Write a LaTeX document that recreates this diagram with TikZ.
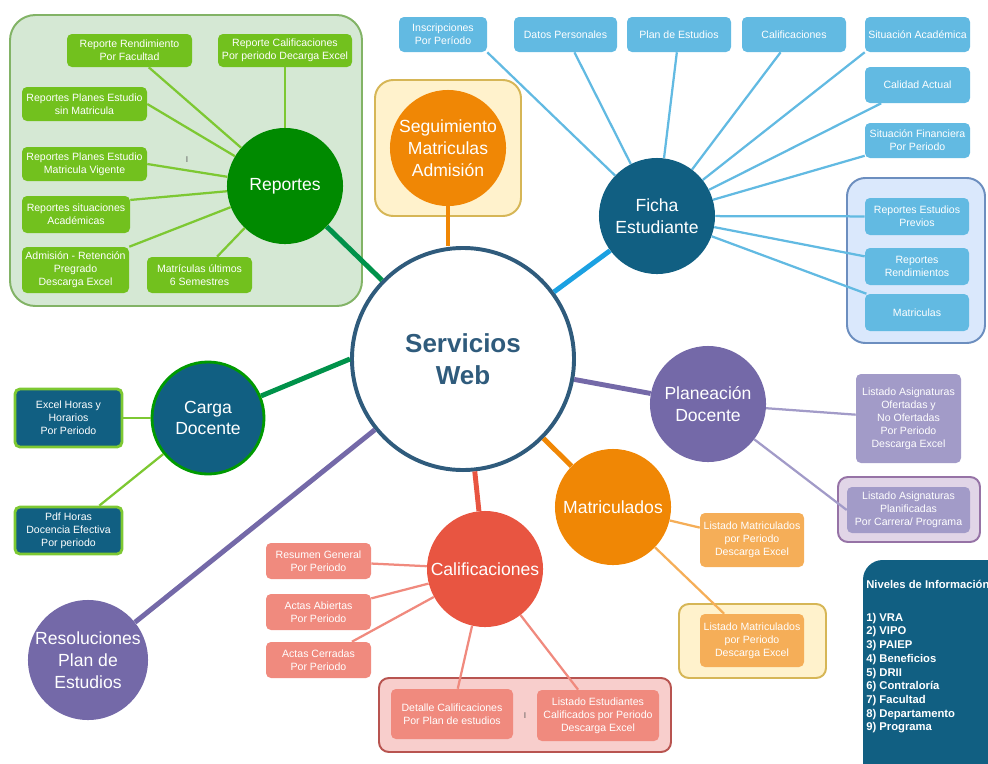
\documentclass[tikz,border=0pt]{standalone}
\usepackage{fontspec}
\setmainfont{Liberation Sans}
\usetikzlibrary{fit}
\definecolor{swblue}{HTML}{2F5B7C}
\definecolor{repdark}{HTML}{008A00}
\definecolor{repleaf}{HTML}{72C11E}
\definecolor{repline}{HTML}{7DC832}
\definecolor{reptrunk}{HTML}{00924A}
\definecolor{repgroup}{HTML}{D5E8D4}
\definecolor{repgroupb}{HTML}{82B366}
\definecolor{segorange}{HTML}{F08705}
\definecolor{yelgroup}{HTML}{FFF2CC}
\definecolor{yelgroupb}{HTML}{D6B656}
\definecolor{fichablue}{HTML}{115F82}
\definecolor{fichatrunk}{HTML}{1BA1E2}
\definecolor{fichaleaf}{HTML}{62BAE2}
\definecolor{bluegroup}{HTML}{DAE8FC}
\definecolor{bluegroupb}{HTML}{6C8EBF}
\definecolor{planpurple}{HTML}{7469A8}
\definecolor{planleaf}{HTML}{A29BC8}
\definecolor{purgroup}{HTML}{E1D5E7}
\definecolor{purgroupb}{HTML}{9673A6}
\definecolor{matleaf}{HTML}{F5AE58}
\definecolor{calred}{HTML}{E85541}
\definecolor{calleaf}{HTML}{F08A7E}
\definecolor{redgroup}{HTML}{F8CECC}
\definecolor{redgroupb}{HTML}{B85450}
\definecolor{cargaborder}{HTML}{009A00}
\tikzset{
hub/.style={circle, draw=swblue, line width=2.8pt, fill=white, minimum size=5.55cm,
    text=swblue, align=center, font=\bfseries\fontsize{18.5}{22.7}\selectfont},
topic/.style={circle, minimum size=2.9cm, inner sep=0pt, text=white, align=center,
    font=\fontsize{12.5}{15.5}\selectfont},
leaf/.style={rounded corners=3.5pt, inner sep=0pt, text=white, align=center,
    font=\fontsize{7.5}{9.2}\selectfont},
sz/.style 2 args={minimum width=#1*0.025cm, minimum height=#2*0.025cm},
group/.style={rounded corners=13pt, inner sep=0pt, line width=1.4pt},
trunk/.style={line width=3.5pt},
twig/.style={line width=1.6pt}
}

\begin{document}
\begin{tikzpicture}[x=0.025cm, y=-0.025cm]
\useasboundingbox (0,0) rectangle (988,764);
\node[group, rounded corners=18pt, fill=repgroup, draw=repgroupb, fit={(10,15)(362,306)}] (repbox) {};
\node[group, fill=yelgroup, draw=yelgroupb, fit={(375,80)(521,216)}] (segbox) {};
\node[group, fill=bluegroup, draw=bluegroupb, fit={(847,178)(985,343)}] (fichabox) {};
\node[group, rounded corners=7pt, fill=purgroup, draw=purgroupb, fit={(838,477)(980,542)}] (planbox) {};
\node[group, rounded corners=7pt, fill=yelgroup, draw=yelgroupb, fit={(679,604)(826,678)}] (matbox) {};
\node[group, rounded corners=7pt, fill=redgroup, draw=redgroupb, fit={(379,678)(671,752)}] (calbox) {};
\node[fill=fichablue, rounded corners=14pt, inner sep=0pt, fit={(863,560)(1010,790)}] (legbox) {};

\node[hub] (sw) at (463,359) {Servicios\\Web};
\node[topic, fill=repdark] (rep) at (285,186) {Reportes};
\node[topic, fill=segorange] (seg) at (448,148) {Seguimiento\\Matriculas\\Admisión};
\node[topic, fill=fichablue] (ficha) at (657,216) {Ficha\\Estudiante};
\node[topic, fill=planpurple] (plan) at (708,404) {Planeación\\Docente};
\node[topic, fill=segorange] (matr) at (613,507) {Matriculados};
\node[topic, fill=calred] (calif) at (485,569) {Calificaciones};
\node[topic, fill=fichablue, draw=cargaborder, line width=2pt, minimum size=2.8cm] (carga) at (208,418) {Carga\\Docente};
\node[topic, fill=planpurple, minimum size=3cm] (resol) at (88,660) {Resoluciones\\Plan de\\Estudios};

\node[leaf, fill=repleaf, sz={125}{33}] (rrend) at (129.5,50.5) {Reporte Rendimiento\\Por Facultad};
\node[leaf, fill=repleaf, sz={134}{33}] (rcal) at (285,50.5) {Reporte Calificaciones\\Por periodo Decarga Excel};
\node[leaf, fill=repleaf, sz={125}{34}] (rsin) at (84.5,104) {Reportes Planes Estudio\\sin Matricula};
\node[leaf, fill=repleaf, sz={125}{34}] (rvig) at (84.5,164) {Reportes Planes Estudio\\Matricula Vigente};
\node[leaf, fill=repleaf, sz={108}{37}] (rsit) at (76,214.5) {Reportes situaciones\\Académicas};
\node[leaf, fill=repleaf, sz={107}{46}] (radm) at (75.5,270) {Admisión - Retención\\Pregrado\\Descarga Excel};
\node[leaf, fill=repleaf, sz={105}{36}] (rsem) at (199.5,275) {Matrículas últimos\\6 Semestres};
\node[font=\fontsize{6}{6}\selectfont, text=black!65] (cur1) at (187,160) {I};

\node[leaf, fill=fichaleaf, sz={88}{35}] (finsc) at (443,34.5) {Inscripciones\\Por Período};
\node[leaf, fill=fichaleaf, sz={103}{35}] (fdat) at (565.5,34.5) {Datos Personales};
\node[leaf, fill=fichaleaf, sz={104}{35}] (fplan) at (679,34.5) {Plan de Estudios};
\node[leaf, fill=fichaleaf, sz={104}{35}] (fcal) at (794,34.5) {Calificaciones};
\node[leaf, fill=fichaleaf, sz={105}{35}] (fsit) at (917.5,34.5) {Situación Académica};
\node[leaf, fill=fichaleaf, sz={105}{36}] (fcalid) at (917.5,85) {Calidad Actual};
\node[leaf, fill=fichaleaf, sz={105}{35}] (ffin) at (917.5,140.5) {Situación Financiera\\Por Periodo};
\node[leaf, fill=fichaleaf, sz={104}{37}] (fprev) at (917,216.5) {Reportes Estudios\\Previos};
\node[leaf, fill=fichaleaf, sz={104}{37}] (frend) at (917,266.5) {Reportes\\Rendimientos};
\node[leaf, fill=fichaleaf, sz={104}{37}] (fmat) at (917,312.5) {Matriculas};

\node[leaf, fill=planleaf, sz={105}{89}] (pofer) at (908.5,418.5) {Listado Asignaturas\\Ofertadas y\\No Ofertadas\\Por Periodo\\Descarga Excel};
\node[leaf, fill=planleaf, sz={123}{46}] (pplan) at (908.5,510) {Listado Asignaturas\\Planificadas\\Por Carrera/ Programa};

\node[leaf, fill=matleaf, sz={104}{54}] (mlist) at (752,540) {Listado Matriculados\\por Periodo\\Descarga Excel};
\node[leaf, fill=matleaf, sz={104}{53}] (mlistb) at (752,640.5) {Listado Matriculados\\por Periodo\\Descarga Excel};

\node[leaf, fill=calleaf, sz={105}{36}] (calres) at (318.5,561) {Resumen General\\Por Periodo};
\node[leaf, fill=calleaf, sz={105}{36}] (calabi) at (318.5,612) {Actas Abiertas\\Por Periodo};
\node[leaf, fill=calleaf, sz={105}{36}] (calcer) at (318.5,660) {Actas Cerradas\\Por Periodo};
\node[leaf, fill=calleaf, sz={122}{50}] (caldet) at (452,714) {Detalle Calificaciones\\Por Plan de estudios};
\node[leaf, fill=calleaf, sz={122}{51}] (callist) at (598,715.5) {Listado Estudiantes\\Calificados por Periodo\\Descarga Excel};
\node[font=\fontsize{6}{6}\selectfont, text=black!65] (cur2) at (525,716) {I};

\node[leaf, fill=fichablue, draw=repline, line width=2pt, sz={107}{58}] (dexc) at (68.5,418) {Excel Horas y\\Horarios\\Por Periodo};
\node[leaf, fill=fichablue, draw=repline, line width=2pt, sz={107}{47}] (dpdf) at (68.5,530.5) {Pdf Horas\\Docencia Efectiva\\Por periodo};

\node[anchor=north west, inner sep=0pt, align=left, text=white,
  font=\bfseries\fontsize{8}{9.75}\selectfont] (legtxt) at (866,580)
  {Niveles de Información\\[13.5pt]1) VRA\\2) VIPO\\3) PAIEP\\4) Beneficios\\5) DRII\\6) Contraloría\\7) Facultad\\8) Departamento\\9) Programa};

\draw[trunk, reptrunk] (rep) -- (sw);
\draw[trunk, reptrunk] (carga) -- (sw.west);
\draw[trunk, segorange] (seg.south) -- (seg.south |- sw.north);
\draw[trunk, fichatrunk] (sw) -- (ficha);
\draw[trunk, planpurple] (sw) -- (plan);
\draw[trunk, segorange] (sw) -- (matr);
\draw[trunk, calred] (sw) -- (calif);
\draw[trunk, planpurple] (sw) -- (resol);

\foreach \n in {rrend, rcal, rsem}
  \draw[twig, repline] (\n) -- (rep);
\draw[twig, repline] (rsin.east) -- (rep);
\draw[twig, repline] (rvig.east) -- (rep);
\draw[twig, repline] (rsit.15) -- (rep);
\draw[twig, repline] (radm.north east) -- (rep);

\foreach \n in {fdat, fplan, fcal, fcalid, ffin, fprev, frend, fmat}
  \draw[twig, fichaleaf] (\n) -- (ficha);
\draw[twig, fichaleaf] (finsc.south east) -- (ficha);
\draw[twig, fichaleaf] (fsit.south west) -- (ficha);

\draw[twig, planleaf] (pofer) -- (plan);
\draw[twig, planleaf] (pplan.west) -- (plan);

\foreach \n in {mlist, mlistb}
  \draw[twig, matleaf] (\n) -- (matr);

\foreach \n in {calres, calabi, calcer, caldet, callist}
  \draw[twig, calleaf] (\n) -- (calif);

\foreach \n in {dexc, dpdf}
  \draw[twig, repline] (\n) -- (carga);
\end{tikzpicture}
\end{document}
